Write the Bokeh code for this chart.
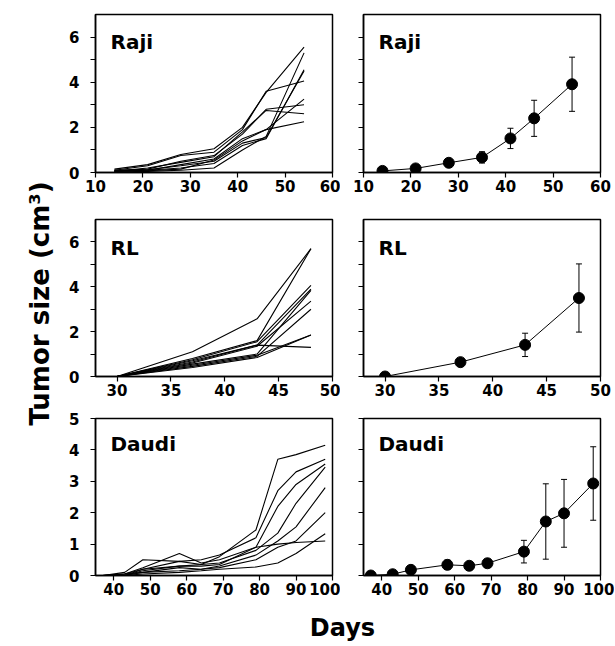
import math
from bokeh.plotting import figure
from bokeh.layouts import column, row
from bokeh.models import Range1d, FixedTicker, Label, Whisker, ColumnDataSource, TeeHead
from bokeh.embed import file_html
from bokeh.resources import INLINE

FONT = "DejaVu Sans"

# ---------------- data ----------------
raji_days = [14, 21, 28, 35, 41, 46, 54]
raji_mice = [
    [0.15, 0.35, 0.80, 1.05, 2.00, 3.55, 5.55],
    [0.10, 0.30, 0.75, 0.90, 1.90, 3.60, 4.05],
    [0.08, 0.15, 0.50, 0.75, 1.70, 2.80, 3.00],
    [0.05, 0.20, 0.45, 0.70, 1.80, 2.75, 2.60],
    [0.10, 0.10, 0.35, 0.60, 1.50, 1.90, 2.25],
    [0.02, 0.05, 0.10, 0.20, 1.00, 1.60, 5.30],
    [0.05, 0.10, 0.20, 0.40, 1.20, 1.50, 4.55],
    [0.10, 0.12, 0.30, 0.50, 1.30, 1.55, 4.50],
    [0.05, 0.08, 0.15, 0.55, 1.40, 1.90, 3.25],
]
raji_mean = [0.07, 0.18, 0.43, 0.67, 1.51, 2.40, 3.91]
raji_err = [0.03, 0.05, 0.12, 0.25, 0.45, 0.80, 1.20]

rl_days = [30, 37, 43, 48]
rl_mice = [
    [0.0, 1.10, 2.57, 5.70],
    [0.0, 0.80, 1.60, 5.70],
    [0.0, 0.75, 1.55, 4.06],
    [0.0, 0.70, 1.40, 3.90],
    [0.0, 0.60, 1.35, 3.36],
    [0.0, 0.55, 1.00, 3.84],
    [0.0, 0.45, 0.90, 3.00],
    [0.0, 0.40, 0.85, 1.85],
    [0.0, 0.65, 1.40, 1.30],
    [0.0, 0.50, 0.95, 1.85],
]
rl_mean = [0.0, 0.64, 1.41, 3.50]
rl_err = [0.0, 0.08, 0.52, 1.52]

daudi_days = [37, 43, 48, 58, 64, 69, 79, 85, 90, 98]
daudi_mice = [
    [0.0, 0.00, 0.20, 0.45, 0.35, 0.60, 1.45, 3.70, 3.85, 4.15],
    [0.0, 0.10, 0.50, 0.45, 0.50, 0.65, 1.20, 2.70, 3.30, 3.70],
    [0.0, 0.05, 0.25, 0.70, 0.40, 0.50, 0.90, 2.20, 2.90, 3.55],
    [0.0, 0.00, 0.15, 0.30, 0.35, 0.40, 0.80, 1.35, 2.30, 3.45],
    [0.0, 0.05, 0.10, 0.25, 0.20, 0.30, 0.65, 1.10, 1.55, 2.80],
    [0.0, 0.00, 0.10, 0.15, 0.20, 0.25, 0.50, 0.90, 1.10, 2.00],
    [0.0, 0.05, 0.20, 0.30, 0.30, 0.35, 0.90, 1.00, 1.05, 1.10],
    [0.0, 0.00, 0.05, 0.10, 0.15, 0.20, 0.27, 0.40, 0.70, 1.33],
]
daudi_mean = [0.0, 0.04, 0.18, 0.34, 0.31, 0.39, 0.76, 1.72, 1.98, 2.93]
daudi_err = [0.0, 0.02, 0.06, 0.15, 0.05, 0.13, 0.36, 1.20, 1.08, 1.17]

panel_names = ["Raji", "RL", "Daudi"]
x_ranges = [(10, 60), (28, 50), (35, 100)]
y_ranges = [(0, 7), (0, 7), (0, 5)]
x_ticks = [[10, 20, 30, 40, 50, 60], [30, 35, 40, 45, 50], [40, 50, 60, 70, 80, 90, 100]]
y_ticks = [[0, 1, 2, 3, 4, 5, 6], [0, 1, 2, 3, 4, 5, 6], [0, 1, 2, 3, 4, 5]]
y_hidden = [[1, 3, 5], [1, 3, 5], []]

y_title = "Tumor size (cm³)"
x_title = "Days"

# ---------------- layout constants ----------------
TITLE_W = 54
LEFT_W, RIGHT_W = 340 - TITLE_W, 274
ROW_H = [200, 201, 199]
BORDERS_TOP = [14, 19, 17]
BORDERS_BOTTOM = [28, 25, 25]
NAME_DROP = [27, 28, 25]


def make_panel(i, left):
    xr = x_ranges[i]
    yr = y_ranges[i]
    p = figure(
        width=LEFT_W if left else RIGHT_W,
        height=ROW_H[i],
        x_range=Range1d(*xr), y_range=Range1d(*yr),
        toolbar_location=None, output_backend="svg",
        min_border_left=95 - TITLE_W if left else 23,
        min_border_right=8 if left else 14,
        min_border_top=BORDERS_TOP[i],
        min_border_bottom=BORDERS_BOTTOM[i],
    )
    p.xgrid.visible = False
    p.ygrid.visible = False
    p.outline_line_color = "black"
    p.outline_line_width = 1.5
    p.background_fill_color = "white"
    p.border_fill_color = "white"

    for ax in (p.xaxis[0], p.yaxis[0]):
        ax.axis_line_color = "black"
        ax.axis_line_width = 1.5
        ax.major_tick_line_color = "black"
        ax.major_tick_line_width = 1.2
        ax.major_tick_in = 0
        ax.major_tick_out = 5
        ax.minor_tick_line_color = None
        ax.major_label_text_font = FONT
        ax.major_label_text_font_style = "bold"
        ax.major_label_text_font_size = "15px"
        ax.major_label_text_color = "black"

    p.xaxis.ticker = FixedTicker(ticks=x_ticks[i])
    p.xaxis.major_label_standoff = 2
    p.yaxis.ticker = FixedTicker(ticks=y_ticks[i])
    p.yaxis.major_label_standoff = 11
    if left:
        p.yaxis.major_label_overrides = {t: "" for t in y_hidden[i]}
    else:
        p.yaxis.major_label_overrides = {t: "" for t in y_ticks[i]}

    p.add_layout(Label(
        x=xr[0], y=yr[1], x_offset=15, y_offset=-NAME_DROP[i],
        text=panel_names[i], text_font=FONT, text_font_style="bold",
        text_font_size="20px", text_color="black", text_baseline="alphabetic",
    ))
    return p


data = [
    (raji_days, raji_mice, raji_mean, raji_err),
    (rl_days, rl_mice, rl_mean, rl_err),
    (daudi_days, daudi_mice, daudi_mean, daudi_err),
]

rows = []
for i, (days, mice, mean, err) in enumerate(data):
    pl = make_panel(i, True)
    for m in mice:
        pl.line(days, m, line_color="black", line_width=1.1)
    pr = make_panel(i, False)
    src = ColumnDataSource(dict(
        x=days, y=mean,
        upper=[m + e for m, e in zip(mean, err)],
        lower=[m - e for m, e in zip(mean, err)],
    ))
    pr.add_layout(Whisker(
        source=src, base="x", upper="upper", lower="lower",
        line_color="black", line_width=1,
        upper_head=TeeHead(size=6, line_color="black", line_width=1),
        lower_head=TeeHead(size=6, line_color="black", line_width=1),
    ))
    pr.line("x", "y", source=src, line_color="black", line_width=1)
    pr.scatter("x", "y", source=src, size=11, fill_color="black", line_color="black")
    rows.append(row(pl, pr))

grid_h = sum(ROW_H)


def blank_fig(w, h):
    f = figure(width=w, height=h, x_range=Range1d(0, 1), y_range=Range1d(0, 1),
               toolbar_location=None, output_backend="svg",
               x_axis_location=None, y_axis_location=None,
               min_border_left=0, min_border_right=0, min_border_top=0, min_border_bottom=0)
    f.grid.visible = False
    f.outline_line_color = None
    return f


pt = blank_fig(TITLE_W, grid_h)
pt.add_layout(Label(x=39, y=grid_h - 303, x_units="screen", y_units="screen",
                    angle=math.pi / 2, text=y_title, text_align="center",
                    text_baseline="middle", text_font=FONT, text_font_style="bold",
                    text_font_size="26px", text_color="black"))

pd = blank_fig(TITLE_W + LEFT_W + RIGHT_W, 44)
pd.add_layout(Label(x=0.557, y=0.386, text=x_title, text_align="center",
                    text_baseline="middle", text_font=FONT, text_font_style="bold",
                    text_font_size="24px", text_color="black"))

layout = column(row(pt, column(*rows)), pd)
open("out.html", "w").write(file_html(layout, INLINE))
